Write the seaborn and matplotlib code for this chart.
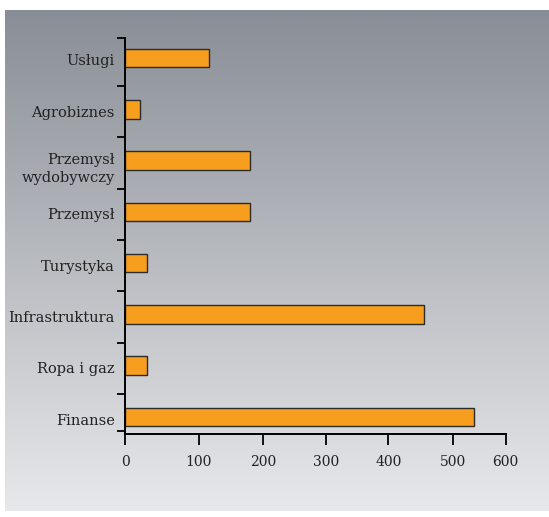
import numpy as np
import pandas as pd
import matplotlib
matplotlib.use("Agg")
import matplotlib.pyplot as plt
import matplotlib.transforms as mtransforms
import seaborn as sns

# Investment volume by sector
categories = ["Usługi", "Agrobiznes", "Przemysł\nwydobywczy", "Przemysł",
              "Turystyka", "Infrastruktura", "Ropa i gaz", "Finanse"]
values = [115, 20, 180, 180, 30, 455, 30, 540]
x_ticks = [0, 100, 200, 300, 400, 500, 600]

# The value axis is drawn with slightly uneven spacing between its ticks:
# fraction of the axis length at which each tick value sits.
tick_fractions = [0.0, 0.1937, 0.3612, 0.5284, 0.6914, 0.8607, 1.0]

df = pd.DataFrame({"sector": categories, "value": values})

sns.set_theme(style="white")
plt.rcParams["font.family"] = ["DejaVu Serif"]

W, H = 549, 517
fig = plt.figure(figsize=(W / 100, H / 100), dpi=100)
fig.patch.set_facecolor("white")

# Vertical grey gradient panel behind the chart
bg = fig.add_axes([5 / W, 1 - 511 / H, 544 / W, 501 / H], zorder=0)
top = np.array([137, 142, 150]) / 255
bottom = np.array([231, 232, 234]) / 255
t = np.linspace(0, 1, 256)[:, None, None]
grad = top * (1 - t) + bottom * t
bg.imshow(grad, aspect="auto", extent=[0, 1, 0, 1], interpolation="bilinear")
bg.set_axis_off()

ax = fig.add_axes([125.3 / W, 1 - 434.3 / H, (505.7 - 125.3) / W, (434.3 - 38.3) / H],
                  zorder=1)
ax.patch.set_alpha(0)

sns.barplot(data=df, x="value", y="sector", orient="h", ax=ax,
            color="#F79E1E", saturation=1, width=0.36,
            edgecolor="#2b2b2b", linewidth=1.0)

vals = np.array(x_ticks, dtype=float)
fr = np.array(tick_fractions) * 600.0


def fwd(x):
    x = np.asarray(x, dtype=float)
    return np.interp(x, vals, fr)


def inv(y):
    y = np.asarray(y, dtype=float)
    return np.interp(y, fr, vals)


ax.set_xscale("function", functions=(fwd, inv))
ax.set_xlim(0, 600)
ax.set_xticks(x_ticks)
ax.set_xticklabels([str(v) for v in x_ticks])

n = len(categories)
ax.set_ylim(7.337, -0.384)
ax.set_yticks(range(n))
ax.set_yticklabels(categories, fontsize=10.5, color="#222222",
                   linespacing=1.4, ha="right")
ax.tick_params(axis="y", length=0, pad=7.5)
# boundary ticks between the sector rows
ax.set_yticks([-0.384] + [i + 0.55 for i in range(n - 1)] + [7.27], minor=True)
ax.tick_params(axis="y", which="minor", length=5.5, width=1.3, color="black",
               left=True)
ax.tick_params(axis="x", length=8, width=1.3, color="black", pad=7,
               labelsize=10, labelcolor="#222222", bottom=True)

# two-line label: first line level with its bar, second line below it
for lab in ax.get_yticklabels():
    shift = -5 if "\n" in lab.get_text() else -2
    lab.set_transform(lab.get_transform()
                      + mtransforms.ScaledTranslation(0, shift / 100, fig.dpi_scale_trans))

ax.set_xlabel("")
ax.set_ylabel("")
for side in ["top", "right"]:
    ax.spines[side].set_visible(False)
for side in ["left", "bottom"]:
    ax.spines[side].set_color("black")
    ax.spines[side].set_linewidth(1.4)

fig.savefig("out.png", dpi=100)
